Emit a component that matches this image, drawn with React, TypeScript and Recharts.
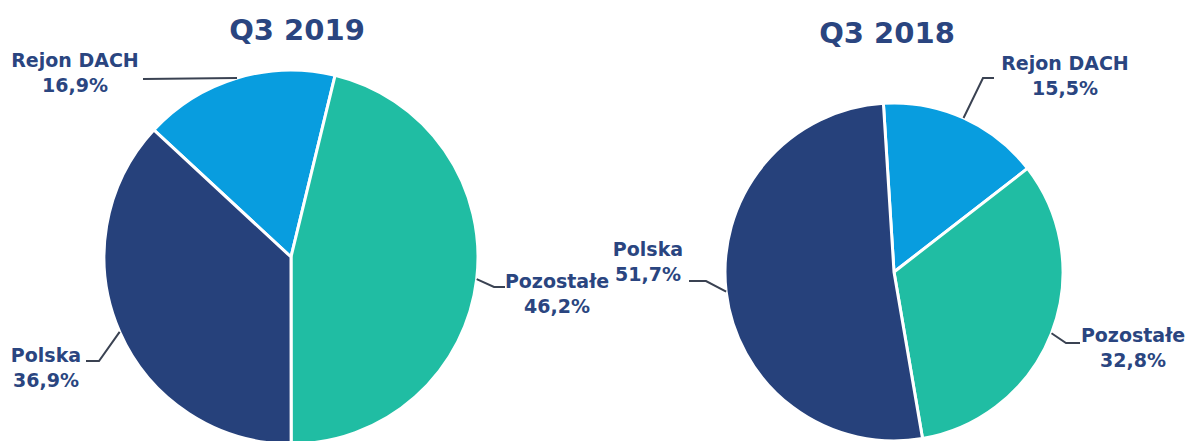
import { PieChart, Pie, Cell } from "recharts";

const categories = ["Rejon DACH", "Pozostałe", "Polska"];
const shares2019 = [16.9, 46.2, 36.9];
const shares2018 = [15.5, 32.8, 51.7];
const titles = ["Q3 2019", "Q3 2018"];

const COLORS = ["#089ddf", "#20bda3", "#26417b"];
const TEXT = "#2a4580";
const LINE = "#3a4252";
const FONT = "'DejaVu Sans', Verdana, sans-serif";
const RAD = Math.PI / 180;

// label placement per pie, same order as categories
const labelLayout = [
  [
    { x: 75, y: 67, path: [[143, 79]] },
    { x: 557, y: 288, path: [[494, 287], [505, 287]] },
    { x: 46, y: 362, path: [[99, 361], [86, 361]] },
  ],
  [
    { x: 1065, y: 70, path: [[983, 78], [994, 78]] },
    { x: 1133, y: 342, path: [[1066, 343], [1080, 343]] },
    { x: 648, y: 256, path: [[706, 281], [689, 281]] },
  ],
];

const pies = [
  { cx: 291, cy: 257, r: 187, start: 137.2, values: shares2019 },
  { cx: 894, cy: 272, r: 169, start: 93.6, values: shares2018 },
];

const fmt = (v: number) => v.toFixed(1).replace(".", ",") + "%";

const makeLabel = (pieIdx: number) => (props: any) => {
  const { cx, cy, midAngle, outerRadius, index, name, value } = props;
  const ex = cx + outerRadius * Math.cos(-midAngle * RAD);
  const ey = cy + outerRadius * Math.sin(-midAngle * RAD);
  const lay = labelLayout[pieIdx][index];
  const pts = [[ex, ey], ...lay.path].map((p) => p.join(",")).join(" ");
  return (
    <g key={`lbl-${pieIdx}-${index}`}>
      <polyline points={pts} fill="none" stroke={LINE} strokeWidth={2} />
      <text
        x={lay.x}
        y={lay.y}
        textAnchor="middle"
        fill={TEXT}
        fontFamily={FONT}
        fontWeight="bold"
        fontSize={19}
      >
        {name}
      </text>
      <text
        x={lay.x}
        y={lay.y + 25}
        textAnchor="middle"
        fill={TEXT}
        fontFamily={FONT}
        fontWeight="bold"
        fontSize={19}
      >
        {fmt(value)}
      </text>
    </g>
  );
};

export default function App() {
  return (
    <div
      style={{
        position: "absolute",
        left: 0,
        top: 0,
        width: 1189,
        height: 441,
        background: "#ffffff",
        overflow: "hidden",
      }}
    >
      <PieChart width={1189} height={441} margin={{ top: 0, right: 0, bottom: 0, left: 0 }}>
        {pies.map((p, i) => (
          <Pie
            key={i}
            data={categories.map((c, j) => ({ name: c, value: p.values[j] }))}
            dataKey="value"
            nameKey="name"
            cx={p.cx}
            cy={p.cy}
            outerRadius={p.r}
            startAngle={p.start}
            endAngle={p.start - 360}
            stroke="#ffffff"
            strokeWidth={3}
            labelLine={false}
            label={makeLabel(i)}
            isAnimationActive={false}
          >
            {categories.map((c, j) => (
              <Cell key={c} fill={COLORS[j]} />
            ))}
          </Pie>
        ))}
      </PieChart>
      <svg
        width={1189}
        height={441}
        style={{ position: "absolute", left: 0, top: 0, pointerEvents: "none" }}
      >
        <text x={297} y={40} textAnchor="middle" fill={TEXT} fontFamily={FONT} fontWeight="bold" fontSize={29}>
          {titles[0]}
        </text>
        <text x={887} y={43} textAnchor="middle" fill={TEXT} fontFamily={FONT} fontWeight="bold" fontSize={29}>
          {titles[1]}
        </text>
      </svg>
    </div>
  );
}
